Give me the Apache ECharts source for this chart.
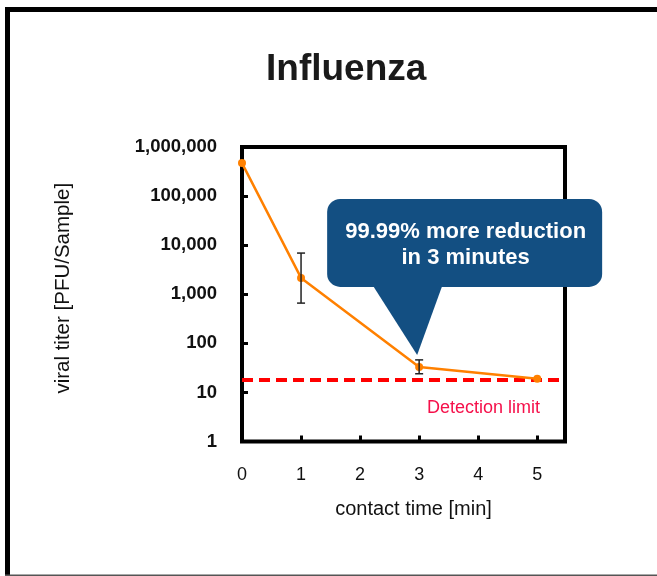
<!DOCTYPE html>
<html>
<head>
<meta charset="utf-8">
<script src="https://cdn.jsdelivr.net/npm/echarts@6/dist/echarts.min.js"></script>
<style>
  html, body { margin: 0; padding: 0; background: #fff; }
  #chart { width: 657px; height: 576px; }
</style>
</head>
<body>
<div id="chart"></div>
<script>
// contact time (min) and measured titer
var times = [0, 1, 3, 5];
var titer = [470000, 2150, 33, 19];
// error bars (only at 1 and 3 min)
var errTimes = [1, 3];
var errLow = [660, 24];
var errHigh = [6900, 46];
var detectionLimit = 18;

var FONT = "'Liberation Sans', Arial, Helvetica, sans-serif";

var chart = echarts.init(document.getElementById('chart'));

function fmtNum(v) {
    return String(Math.round(v)).replace(/\B(?=(\d{3})+(?!\d))/g, ',');
}

var option = {
    animation: false,
    backgroundColor: '#fff',
    textStyle: { fontFamily: FONT },
    title: {
        text: 'Influenza',
        left: 261,
        top: 46,
        textStyle: { fontFamily: FONT, fontSize: 37, fontWeight: 'bold', color: '#1a1a1a' }
    },
    grid: {
        left: 242,
        top: 147,
        right: 92,
        bottom: 134.5,
        show: true,
        borderWidth: 4,
        borderColor: '#000',
        containLabel: false
    },
    xAxis: {
        type: 'value',
        min: 0,
        max: 5.47,
        interval: 1,
        name: 'contact time [min]',
        nameLocation: 'middle',
        nameGap: 58,
        nameTextStyle: { fontFamily: FONT, fontSize: 20, color: '#111', verticalAlign: 'top', padding: [0, 0, 0, 20] },
        axisLine: { show: false },
        axisTick: { show: true, inside: true, length: 6, lineStyle: { color: '#000', width: 3 } },
        axisLabel: {
            margin: 25,
            showMaxLabel: false,
            fontFamily: FONT,
            fontSize: 18,
            color: '#111',
            formatter: function (v) { return Number.isInteger(v) ? String(v) : ''; }
        },
        splitLine: { show: false }
    },
    yAxis: {
        type: 'log',
        logBase: 10,
        min: 1,
        max: 1000000,
        name: 'viral titer [PFU/Sample]',
        nameLocation: 'middle',
        nameGap: 168,
        nameTextStyle: { fontFamily: FONT, fontSize: 20.5, color: '#111', padding: [0, 0, 0, 12] },
        axisLine: { show: false },
        axisTick: { show: true, inside: true, length: 6, lineStyle: { color: '#000', width: 3 } },
        axisLabel: {
            margin: 25,
            fontFamily: FONT,
            fontSize: 18.5,
            fontWeight: 'bold',
            color: '#111',
            formatter: fmtNum
        },
        splitLine: { show: false }
    },
    series: [
        {
            type: 'line',
            data: times.map(function (t, i) { return [t, titer[i]]; }),
            symbol: 'circle',
            symbolSize: 8,
            z: 3,
            lineStyle: { color: '#ff8000', width: 2.5 },
            itemStyle: { color: '#ff8000' },
            markLine: {
                silent: true,
                symbol: 'none',
                label: { show: false },
                lineStyle: { color: '#ff0000', width: 4, type: [11, 6] },
                data: [{ yAxis: detectionLimit }],
                z: 2
            }
        },
        {
            type: 'custom',
            z: 4,
            encode: { x: 0, y: [1, 2] },
            data: errTimes.map(function (t, i) { return [t, errLow[i], errHigh[i]]; }),
            renderItem: function (params, api) {
                var x = api.value(0);
                var lo = api.coord([x, api.value(1)]);
                var hi = api.coord([x, api.value(2)]);
                var w = 4;
                var st = { stroke: '#222', lineWidth: 1.5 };
                return {
                    type: 'group',
                    children: [
                        { type: 'line', shape: { x1: hi[0], y1: hi[1], x2: lo[0], y2: lo[1] }, style: st },
                        { type: 'line', shape: { x1: hi[0] - w, y1: hi[1], x2: hi[0] + w, y2: hi[1] }, style: st },
                        { type: 'line', shape: { x1: lo[0] - w, y1: lo[1], x2: lo[0] + w, y2: lo[1] }, style: st }
                    ]
                };
            }
        }
    ]
};

chart.setOption(option);

// callout pointing at the 3-minute point
var tip = chart.convertToPixel({ gridIndex: 0 }, [3, errHigh[1]]);
var ax = tip[0] - 2, ay = tip[1] - 5;
var boxX = ax - 90, boxY = ay - 156, boxW = 275, boxH = 88;
// detection limit label sits under the dashed line
var lim = chart.convertToPixel({ gridIndex: 0 }, [4.09, detectionLimit]);

chart.setOption({
    graphic: [
        // outer frame
        { type: 'rect', shape: { x: 5, y: 7, width: 652, height: 5 }, style: { fill: '#000' }, silent: true },
        { type: 'rect', shape: { x: 5, y: 7, width: 5, height: 569 }, style: { fill: '#000' }, silent: true },
        { type: 'rect', shape: { x: 5, y: 574.5, width: 652, height: 1.5 }, style: { fill: '#555' }, silent: true },
        {
            type: 'text',
            z: 100,
            style: {
                x: lim[0],
                y: lim[1] + 28,
                text: 'Detection limit',
                fill: '#f5104a',
                font: '18px ' + FONT,
                align: 'center',
                verticalAlign: 'middle'
            }
        },
        {
            type: 'group',
            z: 100,
            children: [
                { type: 'rect', shape: { x: boxX, y: boxY, width: boxW, height: boxH, r: 13 }, style: { fill: '#134f82' } },
                { type: 'polygon', shape: { points: [[ax - 44, boxY + boxH - 1], [ax + 25, boxY + boxH - 1], [ax, ay]] }, style: { fill: '#134f82' } },
                {
                    type: 'text',
                    style: {
                        x: boxX + boxW / 2 + 1,
                        y: boxY + boxH / 2 + 2,
                        text: '99.99% more reduction\nin 3 minutes',
                        fill: '#fff',
                        font: 'bold 22px ' + FONT,
                        lineHeight: 26,
                        align: 'center',
                        verticalAlign: 'middle'
                    }
                }
            ]
        }
    ]
});
</script>
</body>
</html>
